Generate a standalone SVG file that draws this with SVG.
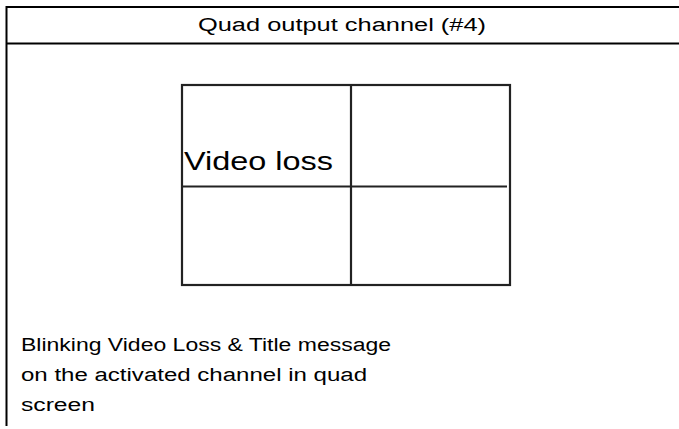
<svg xmlns="http://www.w3.org/2000/svg" width="679" height="429" viewBox="0 0 679 429">
<style>
.frame{stroke:#000;stroke-width:2;fill:none}
.quad{stroke:#222;stroke-width:2.2;fill:none}
.t{font-family:"Liberation Sans",Arial,sans-serif;fill:#000}
</style>
<rect width="679" height="429" fill="#fff"/>
<g id="frame">
<line class="frame" x1="6.5" y1="7" x2="679" y2="7"/>
<line class="frame" x1="6.5" y1="43.5" x2="679" y2="43.5"/>
<line class="frame" x1="6.5" y1="6" x2="6.5" y2="426"/>
<text class="t" x="342" y="31" font-size="18" text-anchor="middle" textLength="288" lengthAdjust="spacingAndGlyphs">Quad output channel (#4)</text>
</g>
<g id="quad">
<rect class="quad" x="182" y="85" width="328" height="200"/>
<line class="quad" x1="351" y1="85" x2="351" y2="285"/>
<line class="quad" x1="182" y1="186.5" x2="507" y2="186.5" stroke-width="3"/>
<text class="t" x="184" y="170" font-size="26.5" fill="#222" textLength="149" lengthAdjust="spacingAndGlyphs">Video loss</text>
</g>
<g id="caption" class="t" font-size="18" fill="#111">
<text x="21" y="351" textLength="370" lengthAdjust="spacingAndGlyphs">Blinking Video Loss &amp; Title message</text>
<text x="21" y="381" textLength="346" lengthAdjust="spacingAndGlyphs">on the activated channel in quad</text>
<text x="21" y="411" textLength="74" lengthAdjust="spacingAndGlyphs">screen</text>
</g>
</svg>
